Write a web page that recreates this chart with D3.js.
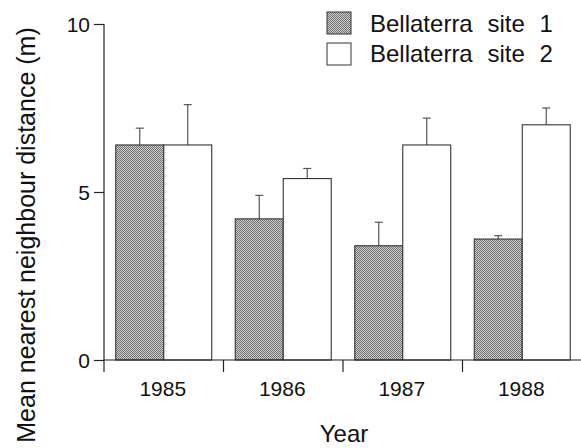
<!DOCTYPE html>
<html><head><meta charset="utf-8">
<script src="https://cdn.jsdelivr.net/npm/d3@7"></script>
<style>
body{margin:0;background:#fff;}
svg{display:block;}
text{font-family:"Liberation Sans",Arial,Helvetica,sans-serif;fill:#111;}
</style></head>
<body><svg id="c" width="581" height="448"></svg>
<script>
const years = ["1985","1986","1987","1988"];
const seriesNames = ["Bellaterra site 1","Bellaterra site 2"];
const site1Means = [6.4, 4.2, 3.4, 3.6];
const site1Errors = [0.5, 0.7, 0.7, 0.1];
const site2Means = [6.4, 5.4, 6.4, 7.0];
const site2Errors = [1.2, 0.3, 0.8, 0.5];
const yTicks = [0, 5, 10];

const svg = d3.select("#c");
const defs = svg.append("defs");
const pat = defs.append("pattern").attr("id","dither").attr("patternUnits","userSpaceOnUse")
  .attr("width",2).attr("height",2);
pat.append("rect").attr("width",2).attr("height",2).attr("fill","#cccccc");
pat.append("rect").attr("x",0).attr("y",0).attr("width",1).attr("height",1).attr("fill","#727272");
pat.append("rect").attr("x",1).attr("y",1).attr("width",1).attr("height",1).attr("fill","#727272");

const x0 = d3.scaleBand().domain(years).range([104, 582]).paddingInner(0).paddingOuter(0);
const x1 = d3.scaleBand().domain(seriesNames).range([0, x0.bandwidth()]).paddingInner(0).paddingOuter(0.245);
const y = d3.scaleLinear().domain([0, 10]).range([360, 24]);

const fills = ["url(#dither)", "#ffffff"];
const data = [];
years.forEach((yr, i) => {
  data.push({year: yr, s: seriesNames[0], v: site1Means[i], e: site1Errors[i], k: 0});
  data.push({year: yr, s: seriesNames[1], v: site2Means[i], e: site2Errors[i], k: 1});
});

// error bars (drawn first, behind bars)
const eb = svg.append("g").attr("stroke","#555").attr("stroke-width",1.2).attr("fill","none");
data.forEach(d => {
  const cx = x0(d.year) + x1(d.s) + x1.bandwidth()/2;
  eb.append("line").attr("x1",cx).attr("x2",cx).attr("y1",y(d.v)).attr("y2",y(d.v+d.e));
  eb.append("line").attr("x1",cx-4).attr("x2",cx+4).attr("y1",y(d.v+d.e)).attr("y2",y(d.v+d.e));
});

svg.append("g").selectAll("rect").data(data).join("rect")
  .attr("x", d => x0(d.year) + x1(d.s))
  .attr("y", d => y(d.v))
  .attr("width", x1.bandwidth())
  .attr("height", d => y(0) - y(d.v))
  .attr("fill", d => fills[d.k])
  .attr("stroke", "#333")
  .attr("stroke-width", 1.1);

// y axis
const yAxis = d3.axisLeft(y).tickValues(yTicks).tickSize(10).tickPadding(4).tickFormat(d3.format("d"));
const gy = svg.append("g").attr("transform","translate(104,0)").call(yAxis);
gy.select(".domain").attr("stroke","#222").attr("stroke-width",1.2).attr("d","M0,24V360");
gy.selectAll(".tick line").attr("stroke","#222").attr("stroke-width",1.2);
gy.selectAll(".tick text").attr("font-size",21).attr("fill","#111")
  .attr("font-family","\"Liberation Sans\",Arial,sans-serif").attr("dy","0.35em");

// x axis
const gx = svg.append("g").attr("transform","translate(0,360)");
gx.append("line").attr("x1",104).attr("x2",581).attr("y1",0).attr("y2",0).attr("stroke","#222").attr("stroke-width",1.2);
const sepTicks = years.map(yr => x0(yr));
gx.selectAll("line.sep").data(sepTicks).join("line").attr("class","sep")
  .attr("x1", d=>d).attr("x2", d=>d).attr("y1",0).attr("y2",12).attr("stroke","#222").attr("stroke-width",1.2);
gx.selectAll("text").data(years).join("text")
  .attr("x", d => x0(d) + x0.bandwidth()/2 - 1)
  .attr("y", 35.5).attr("text-anchor","middle").attr("font-size",21).text(d=>d);

// axis titles
svg.append("text").attr("x",344).attr("y",442).attr("text-anchor","middle").attr("font-size",24).text("Year");
svg.append("text").attr("transform","translate(35,235) rotate(-90)").attr("text-anchor","middle")
  .attr("font-size",25).text("Mean nearest neighbour distance (m)");

// legend
const lg = svg.append("g");
seriesNames.forEach((s, i) => {
  lg.append("rect").attr("x",327).attr("y",12 + i*31).attr("width",24).attr("height",22)
    .attr("fill", fills[i]).attr("stroke","#333").attr("stroke-width",1);
  lg.append("text").attr("x",370).attr("y",32 + i*30).attr("font-size",24)
    .attr("word-spacing","8px").text(s);
});
</script></body></html>
